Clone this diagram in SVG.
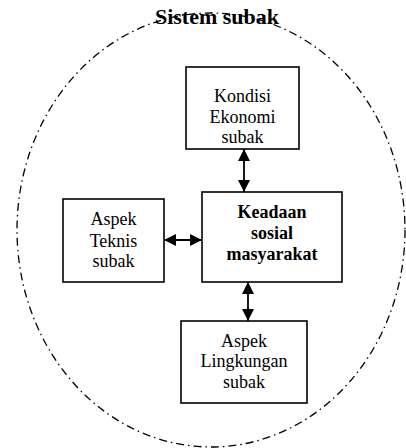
<svg xmlns="http://www.w3.org/2000/svg" width="406" height="448" viewBox="0 0 406 448">
<style>
.box{fill:#fff;stroke:#000;stroke-width:1.6}
.t{font-family:"Liberation Serif","Times New Roman",serif;font-size:18px;fill:#000;text-anchor:middle}
.b{font-weight:bold}
.conn{stroke:#000;stroke-width:1.8;fill:none;marker-start:url(#ah);marker-end:url(#ah)}
</style>
<defs>
<marker id="ah" viewBox="0 0 12 12" refX="12" refY="6" markerWidth="12" markerHeight="12" markerUnits="userSpaceOnUse" orient="auto-start-reverse">
<path d="M0,0 L12,6 L0,12 Z" fill="#000"/>
</marker>
</defs>
<rect width="406" height="448" fill="#fff"/>
<g id="boundary">
<ellipse cx="211" cy="230" rx="194" ry="217" fill="none" stroke="#000" stroke-width="1.3" stroke-dasharray="8 4 1.5 4"/>
<text class="t b" x="217" y="24" style="font-size:22px">Sistem subak</text>
</g>
<g id="connectors">
<line class="conn" x1="244" y1="149" x2="244" y2="192"/>
<line class="conn" x1="248" y1="282" x2="248" y2="321"/>
<line class="conn" x1="164" y1="240" x2="202" y2="240"/>
</g>
<g id="kondisi">
<rect class="box" x="186" y="67" width="113" height="82"/>
<text class="t" x="242.5" y="102">Kondisi</text>
<text class="t" x="242.5" y="123">Ekonomi</text>
<text class="t" x="242.5" y="143">subak</text>
</g>
<g id="keadaan">
<rect class="box" x="202" y="192" width="140" height="90"/>
<text class="t b" x="272" y="218">Keadaan</text>
<text class="t b" x="272" y="239">sosial</text>
<text class="t b" x="272" y="260">masyarakat</text>
</g>
<g id="teknis">
<rect class="box" x="63" y="199" width="101" height="83"/>
<text class="t" x="113.5" y="225">Aspek</text>
<text class="t" x="113.5" y="247">Teknis</text>
<text class="t" x="113.5" y="267">subak</text>
</g>
<g id="lingkungan">
<rect class="box" x="181" y="321" width="126" height="82"/>
<text class="t" x="244" y="347">Aspek</text>
<text class="t" x="244" y="367">Lingkungan</text>
<text class="t" x="244" y="388">subak</text>
</g>
</svg>
